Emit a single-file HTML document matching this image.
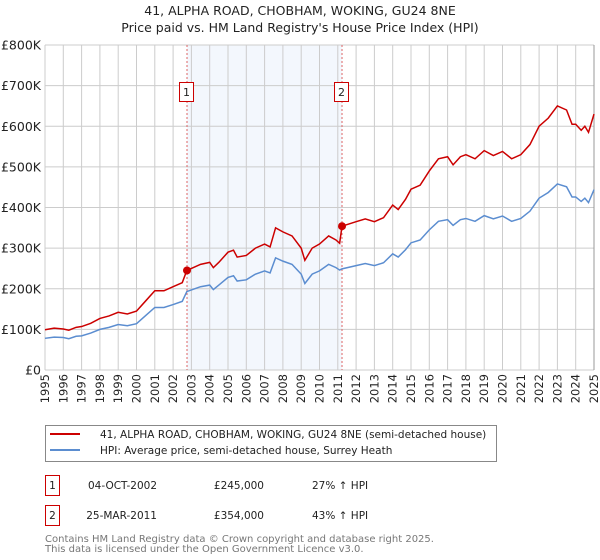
<!DOCTYPE html>
<html><head><meta charset="utf-8"><style>
body{margin:0;background:#fff;}
svg{display:block;font-family:"DejaVu Sans","Liberation Sans",sans-serif;}
</style></head><body>
<svg id="chart" width="600" height="560">
<text x="300" y="15" text-anchor="middle" font-size="12.5" fill="#222">41, ALPHA ROAD, CHOBHAM, WOKING, GU24 8NE</text>
<text x="300" y="32" text-anchor="middle" font-size="12.5" fill="#222">Price paid vs. HM Land Registry's House Price Index (HPI)</text>
<g id="plot"></g>
<g>
<rect x="45.5" y="425.5" width="451" height="36" fill="#fff" stroke="#888"/>
<line x1="50" y1="434" x2="80" y2="434" stroke="#cc0000" stroke-width="2"/>
<text x="100" y="438" font-size="10.5" fill="#222">41, ALPHA ROAD, CHOBHAM, WOKING, GU24 8NE (semi-detached house)</text>
<line x1="50" y1="450" x2="80" y2="450" stroke="#5b8dd0" stroke-width="2"/>
<text x="100" y="454" font-size="10.5" fill="#222">HPI: Average price, semi-detached house, Surrey Heath</text>
</g>
<g font-size="10.5" fill="#222">
<rect x="45.5" y="475.5" width="14" height="20" fill="#fff" stroke="#cc0000"/>
<text x="52.5" y="489" text-anchor="middle">1</text>
<text x="157" y="489" text-anchor="end">04-OCT-2002</text>
<text x="264" y="489" text-anchor="end">£245,000</text>
<text x="312" y="489">27% ↑ HPI</text>
<rect x="45.5" y="505.5" width="14" height="20" fill="#fff" stroke="#cc0000"/>
<text x="52.5" y="519" text-anchor="middle">2</text>
<text x="157" y="519" text-anchor="end">25-MAR-2011</text>
<text x="264" y="519" text-anchor="end">£354,000</text>
<text x="312" y="519">43% ↑ HPI</text>
</g>
<text x="45" y="542" font-size="10" fill="#777">Contains HM Land Registry data © Crown copyright and database right 2025.</text>
<text x="45" y="552" font-size="10" fill="#777">This data is licensed under the Open Government Licence v3.0.</text>
</svg>
<script>
const years=[1995.0,1995.5,1996.0,1996.3,1996.7,1997.0,1997.5,1998.0,1998.5,1999.0,1999.5,2000.0,2000.5,2001.0,2001.5,2002.0,2002.5,2002.75,2003.0,2003.5,2004.0,2004.2,2004.5,2005.0,2005.3,2005.5,2006.0,2006.5,2007.0,2007.3,2007.6,2008.0,2008.5,2009.0,2009.2,2009.6,2010.0,2010.5,2010.9,2011.1,2011.23,2012.0,2012.5,2013.0,2013.5,2014.0,2014.3,2014.7,2015.0,2015.5,2016.0,2016.5,2017.0,2017.3,2017.7,2018.0,2018.5,2019.0,2019.5,2020.0,2020.5,2021.0,2021.5,2022.0,2022.5,2023.0,2023.5,2023.8,2024.0,2024.3,2024.5,2024.7,2025.0];
const propertyValues=[99,103,101,98,105,107,115,127,133,142,138,145,170,195,195,205,215,245,250,260,265,252,265,290,295,278,282,300,310,303,350,340,330,300,270,300,310,330,320,312,354,365,372,365,375,406,395,420,445,455,490,520,525,505,525,530,520,540,528,538,520,530,555,600,620,650,640,605,605,590,600,585,630];
const hpiValues=[78,81,80,77,83,84,91,100,105,112,109,114,134,154,154,161,169,193,197,205,209,198,209,228,232,219,222,236,244,239,276,268,260,236,213,236,244,260,252,246,249,257,262,257,264,286,278,296,313,320,345,366,370,356,370,373,366,380,372,379,366,373,391,423,437,458,451,426,426,415,423,412,444];
const yTicks=[0,100,200,300,400,500,600,700,800];
const yTickLabels=["£0","£100K","£200K","£300K","£400K","£500K","£600K","£700K","£800K"];
const xTicks=[1995,1996,1997,1998,1999,2000,2001,2002,2003,2004,2005,2006,2007,2008,2009,2010,2011,2012,2013,2014,2015,2016,2017,2018,2019,2020,2021,2022,2023,2024,2025];
const saleYears=[2002.76,2011.23];
const salePrices=[245,354];
const saleLabels=["1","2"];

const L=45,R=594,T=45,B=370;
const x=v=>L+(v-1995)/(2025-1995)*(R-L);
const y=v=>B-v/800*(B-T);
const NS="http://www.w3.org/2000/svg";
const g=document.getElementById('plot');
function mk(tag,attrs,parent){const e=document.createElementNS(NS,tag);for(const k in attrs)e.setAttribute(k,attrs[k]);(parent||g).appendChild(e);return e;}

let e=mk('rect',{x:x(saleYears[0]),y:T,width:x(saleYears[1])-x(saleYears[0]),height:B-T,fill:'#eef3fc',opacity:0.7});



xTicks.forEach((t,i)=>{
 const l=mk('line',{x1:x(t),x2:x(t),y1:T,y2:B,stroke:'#cccccc','stroke-width':1});
 
 
 const tx=mk('text',{x:0,y:0,'font-size':11.5,fill:'#222','text-anchor':'end',transform:`translate(${x(t)+4},${B+4}) rotate(-90)`});
 tx.textContent=t;
 
 
});
yTicks.forEach((t,i)=>{
 const l=mk('line',{x1:L,x2:R,y1:y(t),y2:y(t),stroke:'#cccccc','stroke-width':1});
 
 
 const tx=mk('text',{x:L-4,y:y(t)+4.5,'font-size':12.5,fill:'#222','text-anchor':'end'});
 tx.textContent=yTickLabels[i];
 
 
});
e=mk('line',{x1:R,x2:R,y1:T,y2:B,stroke:'#999','stroke-width':1});



saleYears.forEach((s,i)=>{
 const l=mk('line',{x1:x(s),x2:x(s),y1:T,y2:B,stroke:'#dd6666','stroke-width':1,'stroke-dasharray':'2,2'});
 
 
});

const hp=mk('polyline',{points:years.map((v,i)=>x(v)+','+y(hpiValues[i])).join(' '),fill:'none',stroke:'#5b8dd0','stroke-width':1.5});


const pp=mk('polyline',{points:years.map((v,i)=>x(v)+','+y(propertyValues[i])).join(' '),fill:'none',stroke:'#cc0000','stroke-width':1.5});



saleYears.forEach((s,i)=>{
 const c=mk('circle',{cx:x(s),cy:y(salePrices[i]),r:4,fill:'#cc0000'});
 
 
 const r=mk('rect',{x:x(s)-7.5,y:82.5,width:14,height:19,fill:'#fff',stroke:'#cc0000'});
 
 
 const t=mk('text',{x:x(s)-0.5,y:96,'font-size':11,fill:'#222','text-anchor':'middle'});
 t.textContent=saleLabels[i];
 
 
});
</script>
</body></html>
